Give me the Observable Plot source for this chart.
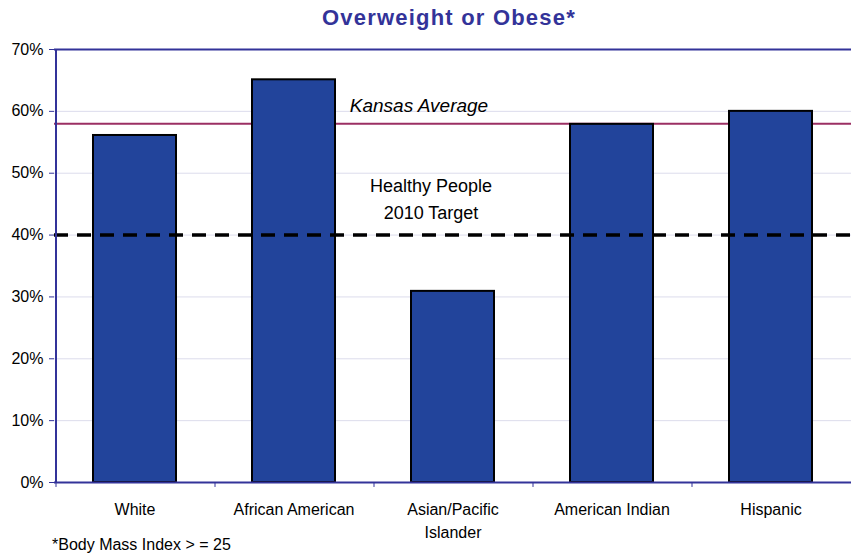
<!DOCTYPE html>
<html>
<head>
<meta charset="utf-8">
<script src="https://cdn.jsdelivr.net/npm/d3@7"></script>
<script src="https://cdn.jsdelivr.net/npm/@observablehq/plot@0.6"></script>
<style>
  html, body { margin: 0; padding: 0; background: #fff; }
  #wrap { position: relative; width: 851px; height: 559px; overflow: hidden; font-family: "Liberation Sans", Arial, sans-serif; }
  #title { position: absolute; top: 5px; left: 0; width: 898px; text-align: center; font-size: 22px; font-weight: bold; color: #333399; letter-spacing: 1.2px; }
  #caption { position: absolute; top: 536px; left: 52px; font-size: 16px; color: #000; }
  #chart { position: absolute; top: 0; left: 0; }
</style>
</head>
<body>
<div id="wrap">
  <div id="chart"></div>
  <div id="title">Overweight or Obese*</div>
  <div id="caption">*Body Mass Index &gt; = 25</div>
</div>
<script>
const categories = ["White", "African American", "Asian/Pacific\nIslander", "American Indian", "Hispanic"];
const values = [56.1, 65.1, 30.9, 57.9, 60.0];
const yTicks = [0, 10, 20, 30, 40, 50, 60, 70];
const kansasAverage = [58];
const healthyPeopleTarget = [40];
const annotations = ["Kansas Average", "Healthy People\n2010 Target"];

const data = categories.map((c, i) => ({category: c, value: values[i]}));

const axisColor = "#333399";

const chart = Plot.plot({
  width: 851,
  height: 559,
  marginLeft: 54,
  marginRight: -1,
  marginTop: 49,
  marginBottom: 77,
  style: {fontFamily: "'Liberation Sans', Arial, sans-serif", fontSize: "15px", color: "#000", background: "transparent"},
  x: {domain: categories, paddingInner: 0.475, paddingOuter: 0.2375, align: 0.5, label: null},
  y: {domain: [0, 70], label: null},
  marks: [
    Plot.gridY(yTicks.filter(d => d > 0 && d < 70), {stroke: "#dcdcec", strokeOpacity: 1, strokeWidth: 1}),
    Plot.ruleY(kansasAverage, {stroke: "#9b2f63", strokeWidth: 2}),
    Plot.barY(data, {x: "category", y: "value", fill: "#22449b", stroke: "#000", strokeWidth: 2}),
    Plot.ruleY(healthyPeopleTarget, {stroke: "#000", strokeWidth: 3.5, strokeDasharray: "14,9"}),
    Plot.ruleY([0], {stroke: axisColor, strokeWidth: 2}),
    Plot.ruleY([70], {stroke: axisColor, strokeWidth: 2}),
    Plot.ruleX([0], {x: () => categories[0], dx: -79, stroke: axisColor, strokeWidth: 2}),
    Plot.ruleX(categories, {x: d => d, dx: -79, y1: 0, y2: -0.8, stroke: axisColor, strokeWidth: 1}),
    Plot.axisY(yTicks, {tickSize: 5, tickPadding: 6, stroke: axisColor, tickFormat: d => d + "%", fontSize: 16, fill: "#000"}),
    Plot.axisX(categories, {tickSize: 0, tickPadding: 16, fontSize: 16, fill: "#000", lineHeight: 1.45}),
    Plot.text([annotations[0]], {x: () => categories[2], dx: -34, y: () => 60.9, text: d => d, fontStyle: "italic", fontSize: 19, fill: "#000"}),
    Plot.text([annotations[1]], {x: () => categories[2], dx: -22, y: () => 46.1, text: d => d, fontSize: 18, lineHeight: 1.5, fill: "#000"})
  ]
});
document.getElementById("chart").appendChild(chart);
</script>
</body>
</html>
